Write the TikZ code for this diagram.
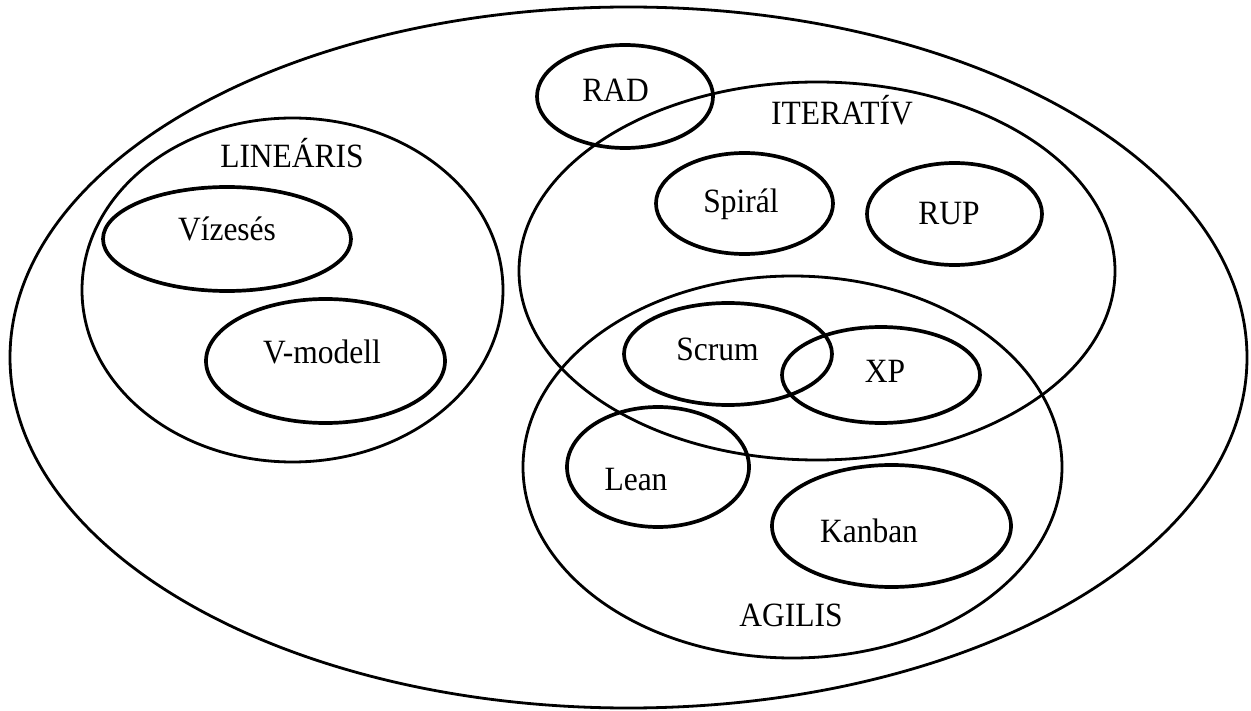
\documentclass[tikz,border=0pt]{standalone}
\usepackage{fontspec}
\usepackage{graphicx}
\setmainfont{Liberation Serif}
\usetikzlibrary{shapes.geometric}
\newcommand{\tallt}[1]{\scalebox{1}[1.08]{#1}}
\tikzset{
  bigell/.style={ellipse, draw=black, line width=2.8pt, inner sep=0pt, outer sep=0pt},
  smallell/.style={ellipse, draw=black, line width=3.7pt, inner sep=0pt, outer sep=0pt},
  lbl/.style={anchor=base, inner sep=0pt, font=\fontsize{31.5}{36}\selectfont, text=black}
}
\begin{document}
\begin{tikzpicture}[x=1pt,y=-1pt]
\useasboundingbox (0,0) rectangle (1251,711);
% big ellipses
\node[bigell, minimum width=1237pt, minimum height=701pt] (outer) at (628.5,357.5) {};
\node[bigell, minimum width=421pt, minimum height=344pt] (linearis) at (292.5,290) {};
\node[bigell, minimum width=596pt, minimum height=378pt] (iterativ) at (817,271) {};
\node[bigell, minimum width=539pt, minimum height=382pt] (agilis) at (792.5,467) {};
% small ellipses
\node[smallell, minimum width=248pt, minimum height=104pt] (vizeses) at (227,239) {};
\node[smallell, minimum width=239pt, minimum height=124pt] (vmodell) at (325.5,361) {};
\node[smallell, minimum width=176pt, minimum height=103pt] (rad) at (625,96.5) {};
\node[smallell, minimum width=177pt, minimum height=101pt] (spiral) at (744.5,203.5) {};
\node[smallell, minimum width=175pt, minimum height=102pt] (rup) at (954.5,214) {};
\node[smallell, minimum width=208pt, minimum height=102pt] (scrum) at (728,354) {};
\node[smallell, minimum width=198pt, minimum height=96pt] (xp) at (881,375) {};
\node[smallell, minimum width=182pt, minimum height=120pt] (lean) at (658,467) {};
\node[smallell, minimum width=239pt, minimum height=122pt] (kanban) at (891.5,526) {};
% labels
\node[lbl] (tlinearis) at (292,168) {\tallt{LINEÁRIS}};
\node[lbl] (titerativ) at (842,125) {\tallt{ITERATÍV}};
\node[lbl] (tagilis) at (791,626) {\tallt{AGILIS}};
\node[lbl] (tvizeses) at (227,241) {\tallt{Vízesés}};
\node[lbl] (tvmodell) at (322,364) {\tallt{V-modell}};
\node[lbl] (trad) at (615.5,102) {\tallt{RAD}};
\node[lbl] (tspiral) at (741,213) {\tallt{Spirál}};
\node[lbl] (trup) at (949,225) {\tallt{RUP}};
\node[lbl] (tscrum) at (717.5,361) {\tallt{Scrum}};
\node[lbl] (txp) at (885,383) {\tallt{XP}};
\node[lbl] (tlean) at (636,490) {\tallt{Lean}};
\node[lbl] (tkanban) at (869,542) {\tallt{Kanban}};
\end{tikzpicture}
\end{document}
